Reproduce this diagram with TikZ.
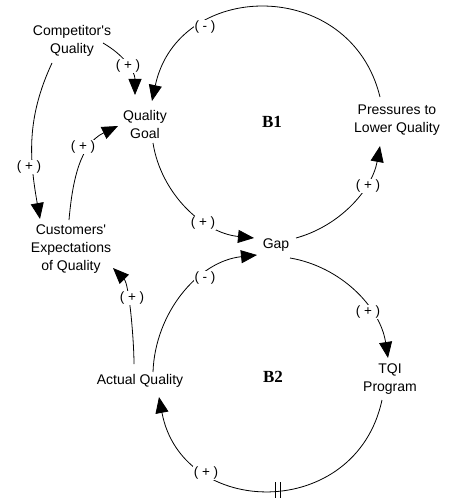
\documentclass[tikz,border=0pt]{standalone}
\usepackage{fontspec}
\setmainfont{Liberation Sans}[Ligatures=ResetAll]
\newfontfamily\serifbold{Liberation Serif}
\usetikzlibrary{arrows.meta}
\begin{document}
\begin{tikzpicture}[x=1pt,y=1pt,
  var/.style={font=\fontsize{14}{18}\selectfont, align=center, inner sep=0pt},
  pol/.style={font=\fontsize{13.5}{15}\selectfont, fill=white, inner sep=1pt},
  loopname/.style={font=\serifbold\bfseries\fontsize{17}{20}\selectfont},
  link/.style={line width=0.8pt, -{Triangle[length=16pt,width=13pt]}},
  plain/.style={line width=0.8pt},
]
\useasboundingbox (0,0) rectangle (449,-500);
% variables
\node[var] (comp)   at (72,-41)   {Competitor\textquotesingle s\\Quality};
\node[var] (goal)   at (145,-124) {Quality\\Goal};
\node[var] (press)  at (397,-120) {Pressures to\\Lower Quality};
\node[var] (gap)    at (276,-245) {Gap};
\node[var] (cust)   at (71,-249.5) {Customers\textquotesingle\\Expectations\\of Quality};
\node[var] (actual) at (140,-381) {Actual Quality};
\node[var] (tqi)    at (390,-379.5) {TQI\\Program};
\node[loopname] (b1) at (272,-122) {B1};
\node[loopname] (b2) at (273,-377) {B2};
% B1 loop
\draw[link] ([shift={(-17,23)}]press.center) to[out=103.7,in=78,looseness=1.395] ([shift={(7,23)}]goal.center);
\draw[link] ([shift={(8,-19)}]goal.center) to[out=279,in=174.4,looseness=0.947] ([shift={(-22,7)}]gap.center);
\draw[link] ([shift={(20,7)}]gap.center) to[out=15.3,in=259.6,looseness=0.92] ([shift={(-17,-26)}]press.center);
% B2 loop
\draw[link] ([shift={(14,-13)}]gap.center) to[out=-9.6,in=98.7,looseness=0.94] ([shift={(-2,21.5)}]tqi.center);
\draw[link] ([shift={(-8,-20.5)}]tqi.center) to[out=257.9,in=280.7,looseness=1.425] coordinate[pos=0.47] (dly) ([shift={(19,-16)}]actual.center);
\draw[link] ([shift={(13,9)}]actual.center) to[out=88,in=186.1,looseness=0.97] ([shift={(-19,-10)}]gap.center);
% left side
\draw[link] ([shift={(31,-2)}]comp.center) to[out=-30,in=90] ([shift={(-10,29)}]goal.center);
\draw[link] ([shift={(-20,-22)}]comp.center) to[out=245,in=100] ([shift={(-31,30.5)}]cust.center);
\draw[link] ([shift={(-2,29.5)}]cust.center) to[out=85,in=205.6] ([shift={(-27,-2)}]goal.center);
\draw[link] ([shift={(-6,17)}]actual.center) to[out=90,in=-45,looseness=0.6] ([shift={(42,-18.5)}]cust.center);
% delay mark
\draw[plain] ([shift={(-2.5,-8)}]dly) -- ([shift={(-2.5,8)}]dly);
\draw[plain] ([shift={(2.5,-8)}]dly) -- ([shift={(2.5,8)}]dly);
% polarities
\node[pol] (p1)  at (205,-27)  {( - )};
\node[pol] (p2)  at (128,-66)  {( + )};
\node[pol] (p3)  at (29,-167)  {( + )};
\node[pol] (p4)  at (83,-147)  {( + )};
\node[pol] (p5)  at (203,-223) {( + )};
\node[pol] (p6)  at (368,-186) {( + )};
\node[pol] (p7)  at (205,-278) {( - )};
\node[pol] (p8)  at (132,-298) {( + )};
\node[pol] (p9)  at (368,-312) {( + )};
\node[pol] (p10) at (206,-473) {( + )};
\end{tikzpicture}
\end{document}
